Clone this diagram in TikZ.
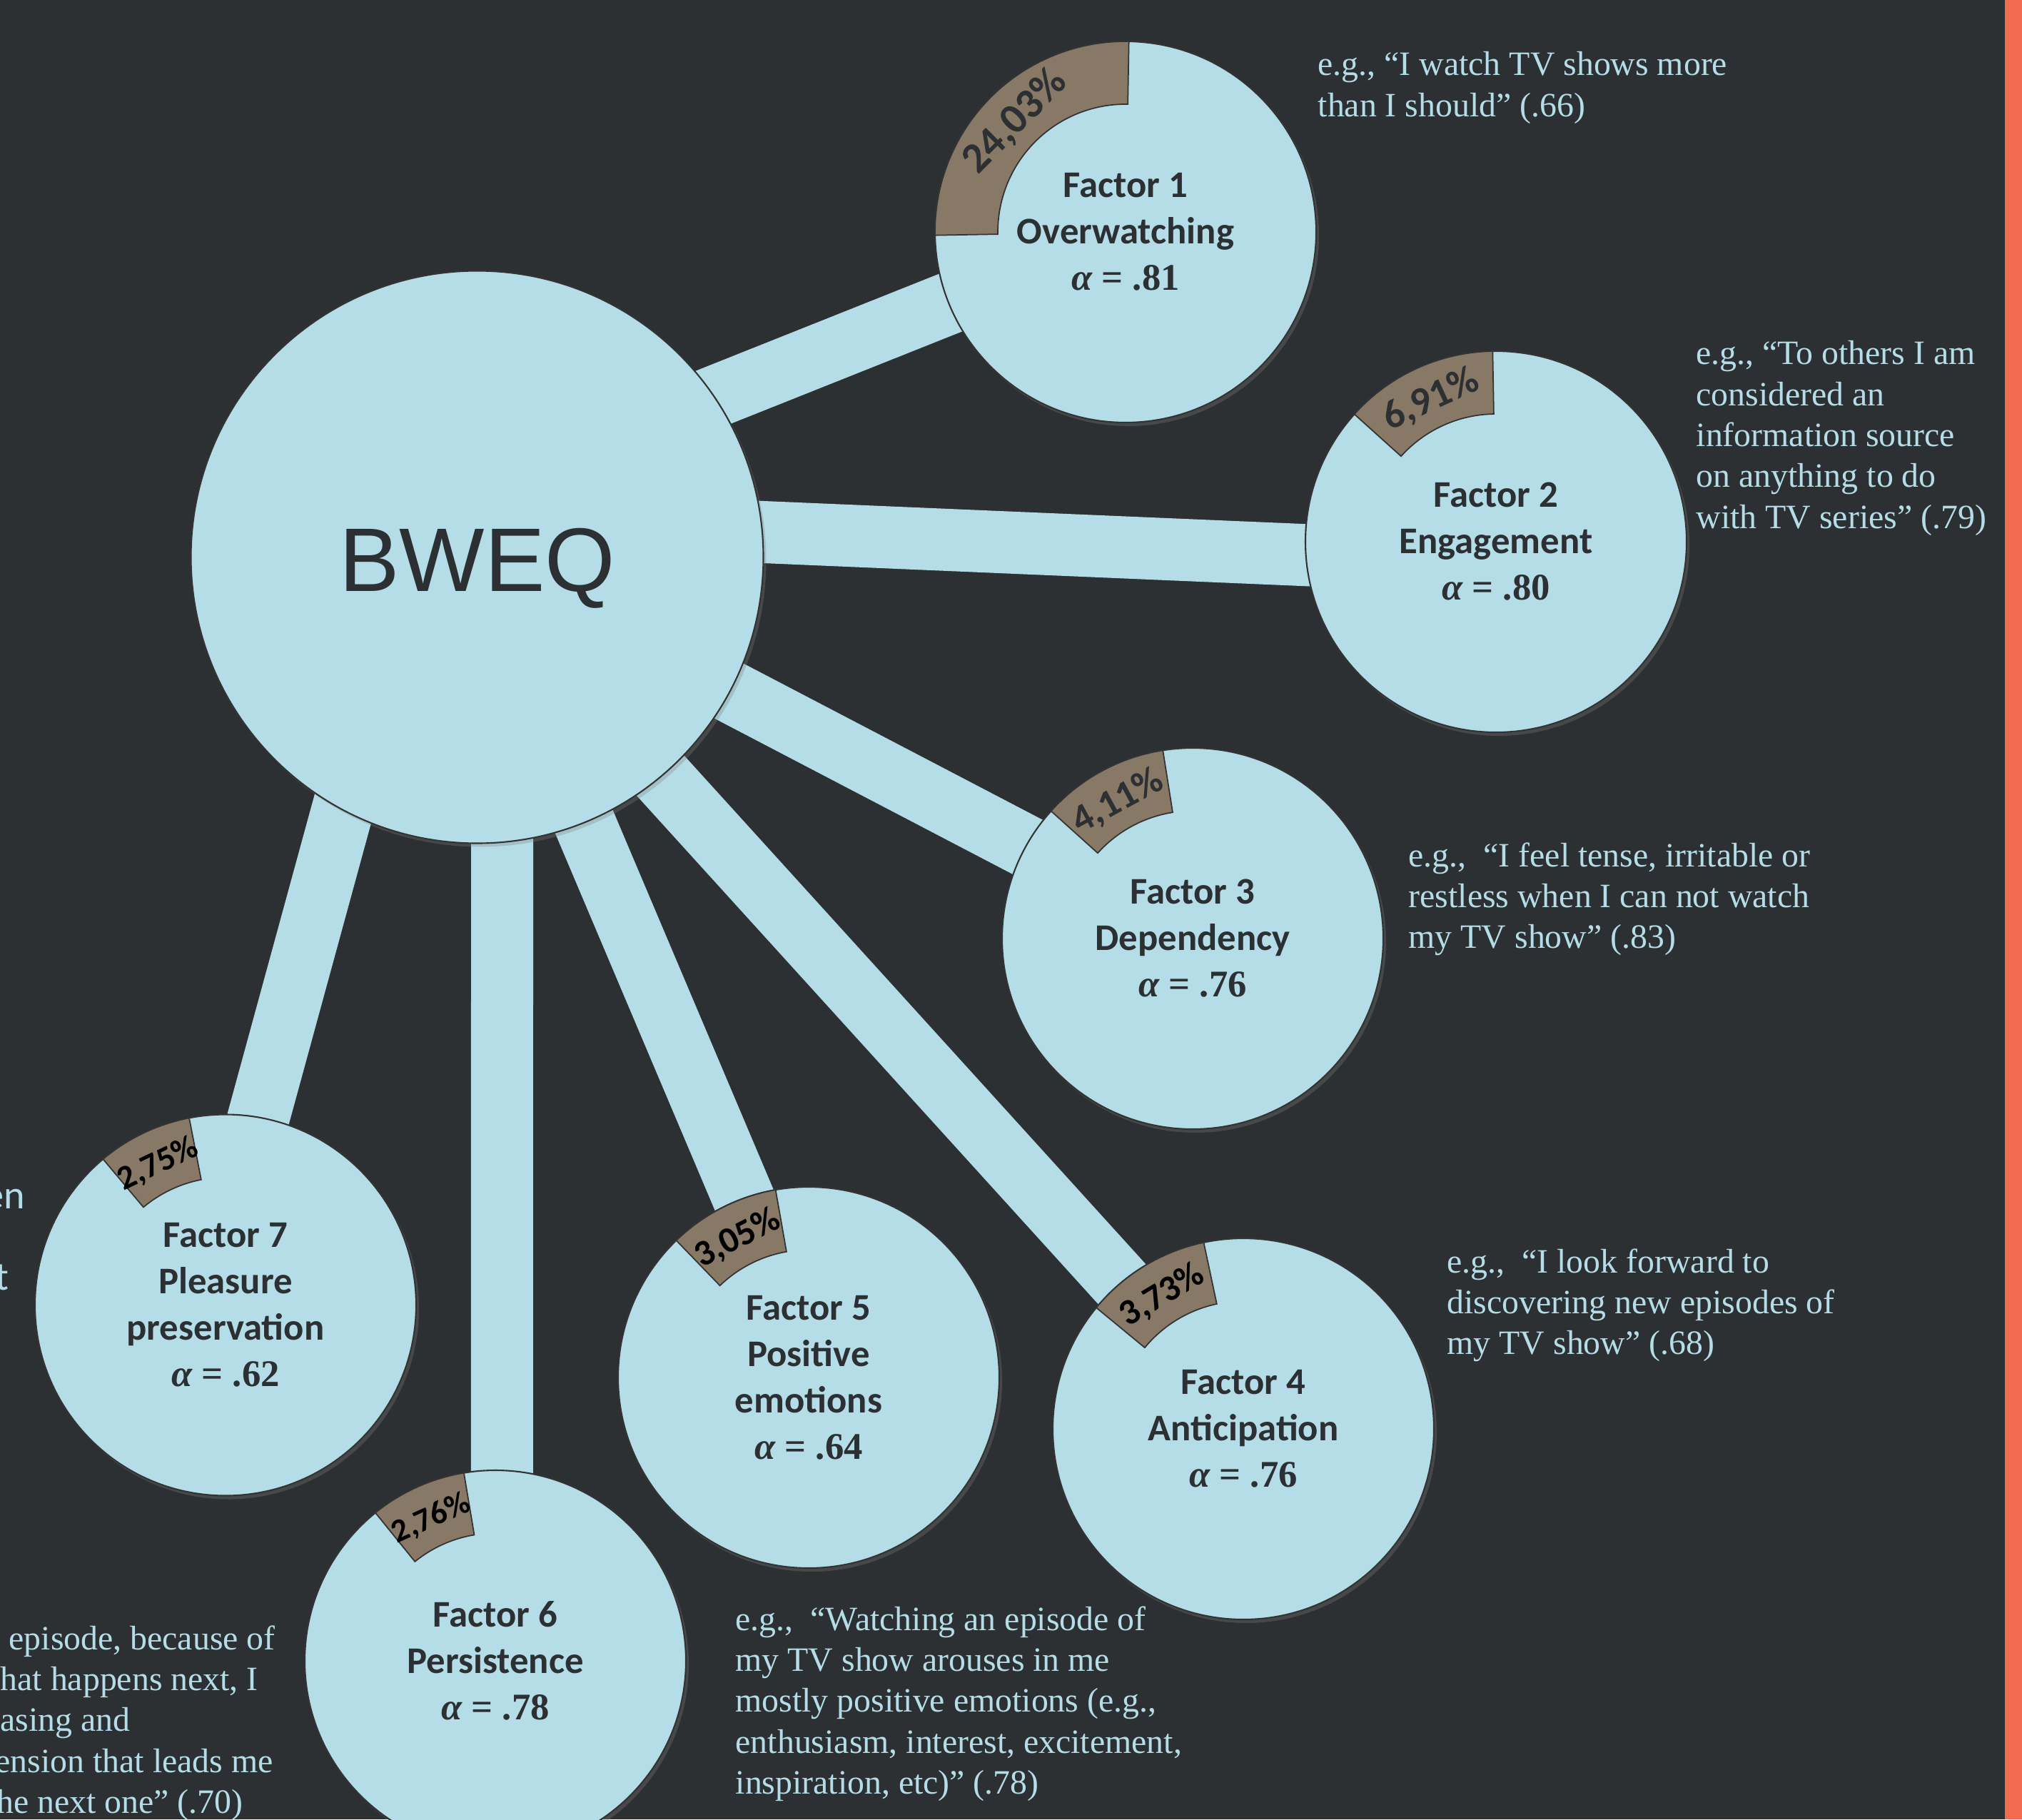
\documentclass[tikz,border=0pt]{standalone}
\usepackage{fontspec}
\setmainfont{Liberation Serif}
\newfontfamily\calibrifont{Carlito}
\newfontfamily\arialfont{Liberation Sans}
\usepackage{tikz}
\usetikzlibrary{shadows}
\definecolor{bwdark}{RGB}{45,48,51}
\definecolor{bwblue}{RGB}{180,221,231}
\definecolor{bwbrown}{RGB}{135,121,102}
\definecolor{bworange}{RGB}{242,106,80}
\pgfdeclarelayer{bg}
\pgfdeclarelayer{links}
\pgfsetlayers{bg,links,main}

\begin{document}
\begin{tikzpicture}[
  hub/.style={circle, fill=bwblue, draw=black!80, line width=0.6pt, minimum size=8.02cm,
    inner sep=0pt, text=bwdark, text height=1.2cm,
    drop shadow={opacity=0.3, shadow xshift=0.04cm, shadow yshift=-0.05cm},
    font=\arialfont\fontsize{36pt}{36pt}\selectfont},
  factor/.style={circle, fill=bwblue, draw=black!80, line width=0.6pt, minimum size=5.34cm,
    inner sep=0pt, align=center, text=bwdark,
    drop shadow={opacity=0.3, shadow xshift=0.04cm, shadow yshift=-0.05cm},
    font=\calibrifont\bfseries\fontsize{15pt}{18.5pt}\selectfont},
  link/.style={draw=bwblue, line width=0.87cm, shorten <=-1cm, shorten >=-1cm},
  pctwedge/.style={fill=bwbrown, draw=black!80, line width=0.5pt},
  pct/.style={inner sep=0pt, text=bwdark},
  quotetext/.style={anchor=north west, inner sep=0pt, align=left, text=bwblue,
    font=\fontsize{13.6pt}{16.3pt}\selectfont}]

  \newcommand\ROUT{2.67}
  \newcommand\RIN{1.79}
  \newcommand\RMID{2.19}
  \newcommand\alphaline[1]{{\rmfamily\bfseries{\itshape α} = #1}}

  \useasboundingbox (0,0) rectangle (28.33,-25.49);
  \begin{pgfonlayer}{bg}
    \fill[bwdark] (0,0) rectangle (28.33,-25.49);
    \fill[bworange] (28.09,0) rectangle (28.33,-25.49);
  \end{pgfonlayer}

  % hub and the seven factors
  \node[hub] (bweq) at (6.685,-7.805) {BWEQ};
  \node[factor] (f1) at (15.77,-3.25) {Factor 1\\Overwatching\\\alphaline{.81}};
  \node[factor] (f2) at (20.96,-7.59) {Factor 2\\Engagement\\\alphaline{.80}};
  \node[factor] (f3) at (16.71,-13.15) {Factor 3\\Dependency\\\alphaline{.76}};
  \node[factor] (f4) at (17.42,-20.02) {Factor 4\\Anticipation\\\alphaline{.76}};
  \node[factor] (f5) at (11.33,-19.30) {Factor 5\\Positive\\emotions\\\alphaline{.64}};
  \node[factor] (f6) at (6.94,-23.27) {Factor 6\\Persistence\\\alphaline{.78}};
  \node[factor] (f7) at (3.16,-18.285) {Factor 7\\Pleasure\\preservation\\\alphaline{.62}};

  % links, under the circles
  \begin{pgfonlayer}{links}
    \draw[link] (bweq.34) -- (f1.202);
    \draw[link] (bweq.5) -- (f2.184);
    \draw[link] (bweq.-28) -- (f3.151.5);
    \draw[link] (bweq.-50) -- (f4.130.5);
    \draw[link] (bweq.-68.5) -- (f5.110);
    \draw[link] (bweq.-85) -- (f6.88);
    \draw[link] (bweq.242) -- (f7.80);
  \end{pgfonlayer}

  % explained variance
  \draw[pctwedge] ([shift={(89:\ROUT)}]f1.center) arc[start angle=89, end angle=181, radius=\ROUT]
    -- ([shift={(181:\RIN)}]f1.center) arc[start angle=181, end angle=89, radius=\RIN] -- cycle;
  \node[pct, rotate=45, font=\calibrifont\bfseries\fontsize{17pt}{17pt}\selectfont]
    (p1) at ([shift={(135:\RMID)}]f1.center) {24,03\%};

  \draw[pctwedge] ([shift={(91:\ROUT)}]f2.center) arc[start angle=91, end angle=138, radius=\ROUT]
    -- ([shift={(138:\RIN)}]f2.center) arc[start angle=138, end angle=91, radius=\RIN] -- cycle;
  \node[pct, rotate=24.5, font=\calibrifont\bfseries\fontsize{16pt}{16pt}\selectfont]
    (p2) at ([shift={(114.5:\RMID)}]f2.center) {6,91\%};

  \draw[pctwedge] ([shift={(99:\ROUT)}]f3.center) arc[start angle=99, end angle=138, radius=\ROUT]
    -- ([shift={(138:\RIN)}]f3.center) arc[start angle=138, end angle=99, radius=\RIN] -- cycle;
  \node[pct, rotate=28.5, font=\calibrifont\bfseries\fontsize{15.5pt}{15.5pt}\selectfont]
    (p3) at ([shift={(118.5:\RMID)}]f3.center) {4,11\%};

  \draw[pctwedge] ([shift={(102:\ROUT)}]f4.center) arc[start angle=102, end angle=140.5, radius=\ROUT]
    -- ([shift={(140.5:\RIN)}]f4.center) arc[start angle=140.5, end angle=102, radius=\RIN] -- cycle;
  \node[pct, text=black, rotate=31, font=\calibrifont\bfseries\fontsize{14.5pt}{14.5pt}\selectfont]
    (p4) at ([shift={(121.25:\RMID)}]f4.center) {3,73\%};

  \draw[pctwedge] ([shift={(100:\ROUT)}]f5.center) arc[start angle=100, end angle=134, radius=\ROUT]
    -- ([shift={(134:\RIN)}]f5.center) arc[start angle=134, end angle=100, radius=\RIN] -- cycle;
  \node[pct, text=black, rotate=27, font=\calibrifont\bfseries\fontsize{14.5pt}{14.5pt}\selectfont]
    (p5) at ([shift={(117:\RMID)}]f5.center) {3,05\%};

  \draw[pctwedge] ([shift={(99.5:\ROUT)}]f6.center) arc[start angle=99.5, end angle=129, radius=\ROUT]
    -- ([shift={(129:\RIN)}]f6.center) arc[start angle=129, end angle=99.5, radius=\RIN] -- cycle;
  \node[pct, text=black, rotate=24, font=\calibrifont\bfseries\fontsize{13pt}{13pt}\selectfont]
    (p6) at ([shift={(114.25:\RMID)}]f6.center) {2,76\%};

  \draw[pctwedge] ([shift={(101:\ROUT)}]f7.center) arc[start angle=101, end angle=130, radius=\ROUT]
    -- ([shift={(130:\RIN)}]f7.center) arc[start angle=130, end angle=101, radius=\RIN] -- cycle;
  \node[pct, text=black, rotate=25.5, font=\calibrifont\bfseries\fontsize{13.5pt}{13.5pt}\selectfont]
    (p7) at ([shift={(115.5:\RMID)}]f7.center) {2,75\%};

  % example items
  \node[quotetext] (q1) at (18.46,-0.72) {e.g., “I watch TV shows more\\than I should” (.66)};
  \node[quotetext] (q2) at (23.76,-4.77) {e.g., “To others I am\\considered an\\information source\\on anything to do\\with TV series” (.79)};
  \node[quotetext] (q3) at (19.73,-11.80) {e.g.,\ \ “I feel tense, irritable or\\restless when I can not watch\\my TV show” (.83)};
  \node[quotetext] (q4) at (20.27,-17.49) {e.g.,\ \ “I look forward to\\discovering new episodes of\\my TV show” (.68)};
  \node[quotetext] (q5) at (10.30,-22.50) {e.g.,\ \ “Watching an episode of\\my TV show arouses in me\\mostly positive emotions (e.g.,\\enthusiasm, interest, excitement,\\inspiration, etc)” (.78)};
  \node[quotetext] (q6) at (0,-22.77) {\hspace*{3.4pt}episode, because of\\hat happens next, I\\asing and\\\hspace*{-2pt}ension that leads me\\\hspace*{-1.5pt}he next one” (.70)};
  \node[anchor=base east, inner sep=0pt, text=bwblue, font=\calibrifont\fontsize{16pt}{16pt}\selectfont]
    (q7a) at (0.36,-16.93) {en};
  \node[anchor=base east, inner sep=0pt, text=bwblue, font=\calibrifont\fontsize{16pt}{16pt}\selectfont]
    (q7b) at (0.13,-18.07) {t};

\end{tikzpicture}
\end{document}
